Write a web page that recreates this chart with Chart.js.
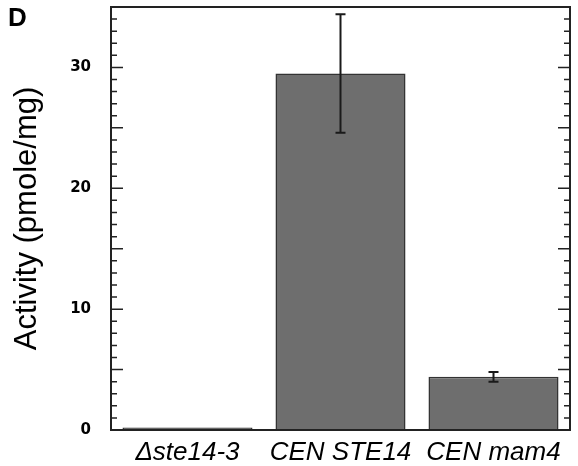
<!DOCTYPE html>
<html>
<head>
<meta charset="utf-8">
<script src="https://cdn.jsdelivr.net/npm/chart.js@4.4.1/dist/chart.umd.min.js"></script>
<style>
  body { margin: 0; background: #fff; }
  #wrap { position: relative; width: 578px; height: 466px; }
  #panel { position: absolute; left: 8px; top: 2px; font: bold 26px "Liberation Sans", Arial, sans-serif; color: #000; }
</style>
</head>
<body>
<div id="wrap">
  <canvas id="chart" width="578" height="466"></canvas>
  <div id="panel">D</div>
</div>
<script>
const strains = ['Δste14-3', 'CEN STE14', 'CEN mam4'];
const activity = [0.2, 29.5, 4.4];
const activityErr = [0, 4.9, 0.4];
const yMax = 35;

// error bars, drawn from the y scale
const errorBars = {
    id: 'errorBars',
    afterDatasetsDraw(chart) {
        const ctx = chart.ctx;
        const y = chart.scales.y;
        const meta = chart.getDatasetMeta(0);
        ctx.save();
        ctx.strokeStyle = '#1a1a1a';
        ctx.lineWidth = 2;
        meta.data.forEach((bar, i) => {
            const e = activityErr[i];
            if (!e) return;
            const top = y.getPixelForValue(activity[i] + e);
            const bot = y.getPixelForValue(activity[i] - e);
            ctx.beginPath();
            ctx.moveTo(bar.x, top); ctx.lineTo(bar.x, bot);
            ctx.moveTo(bar.x - 5, top); ctx.lineTo(bar.x + 5, top);
            ctx.moveTo(bar.x - 5, bot); ctx.lineTo(bar.x + 5, bot);
            ctx.stroke();
        });
        ctx.restore();
    }
};

// box around the plot with inward ticks on both sides
const frameAndTicks = {
    id: 'frameAndTicks',
    afterDatasetsDraw(chart) {
        const ctx = chart.ctx;
        const a = chart.chartArea;
        const y = chart.scales.y;
        ctx.save();
        ctx.strokeStyle = '#222';
        ctx.lineWidth = 1.5;
        for (let v = 0; v <= yMax; v++) {
            const py = y.getPixelForValue(v);
            const len = v % 5 === 0 ? 12 : 6;
            ctx.beginPath();
            ctx.moveTo(a.left, py); ctx.lineTo(a.left + len, py);
            ctx.moveTo(a.right, py); ctx.lineTo(a.right - len, py);
            ctx.stroke();
        }
        ctx.lineWidth = 2;
        ctx.strokeRect(a.left, a.top, a.right - a.left, a.bottom - a.top);
        ctx.restore();
    }
};

new Chart(document.getElementById('chart'), {
    type: 'bar',
    data: {
        labels: strains,
        datasets: [{
            data: activity,
            backgroundColor: '#6e6e6e',
            borderColor: '#333',
            borderWidth: 1.5,
            categoryPercentage: 1,
            barPercentage: 0.85
        }]
    },
    options: {
        responsive: false,
        animation: false,
        layout: { padding: { top: 7, right: 8, left: 0, bottom: 0 } },
        plugins: { legend: { display: false }, tooltip: { enabled: false } },
        scales: {
            x: {
                grid: { display: false, drawTicks: false },
                border: { display: false },
                ticks: {
                    color: '#000',
                    padding: 7,
                    font: { family: '"Liberation Sans", Arial, sans-serif', size: 26, style: 'italic' }
                },
                afterFit(s) { s.height = 36; s.paddingLeft = 0; s.paddingRight = 0; }
            },
            y: {
                min: 0,
                max: yMax,
                grid: { display: false, drawTicks: false },
                border: { display: false },
                ticks: {
                    stepSize: 10,
                    includeBounds: false,
                    padding: 20,
                    color: '#000',
                    font: { family: '"DejaVu Sans", sans-serif', size: 15, weight: 'bold' }
                },
                title: {
                    display: true,
                    text: 'Activity (pmole/mg)',
                    color: '#000',
                    padding: { top: 9, bottom: 0 },
                    font: { family: '"Liberation Sans", Arial, sans-serif', size: 31 }
                },
                afterFit(s) { s.width = 111; s.paddingTop = 0; s.paddingBottom = 0; }
            }
        }
    },
    plugins: [errorBars, frameAndTicks]
});
</script>
</body>
</html>
